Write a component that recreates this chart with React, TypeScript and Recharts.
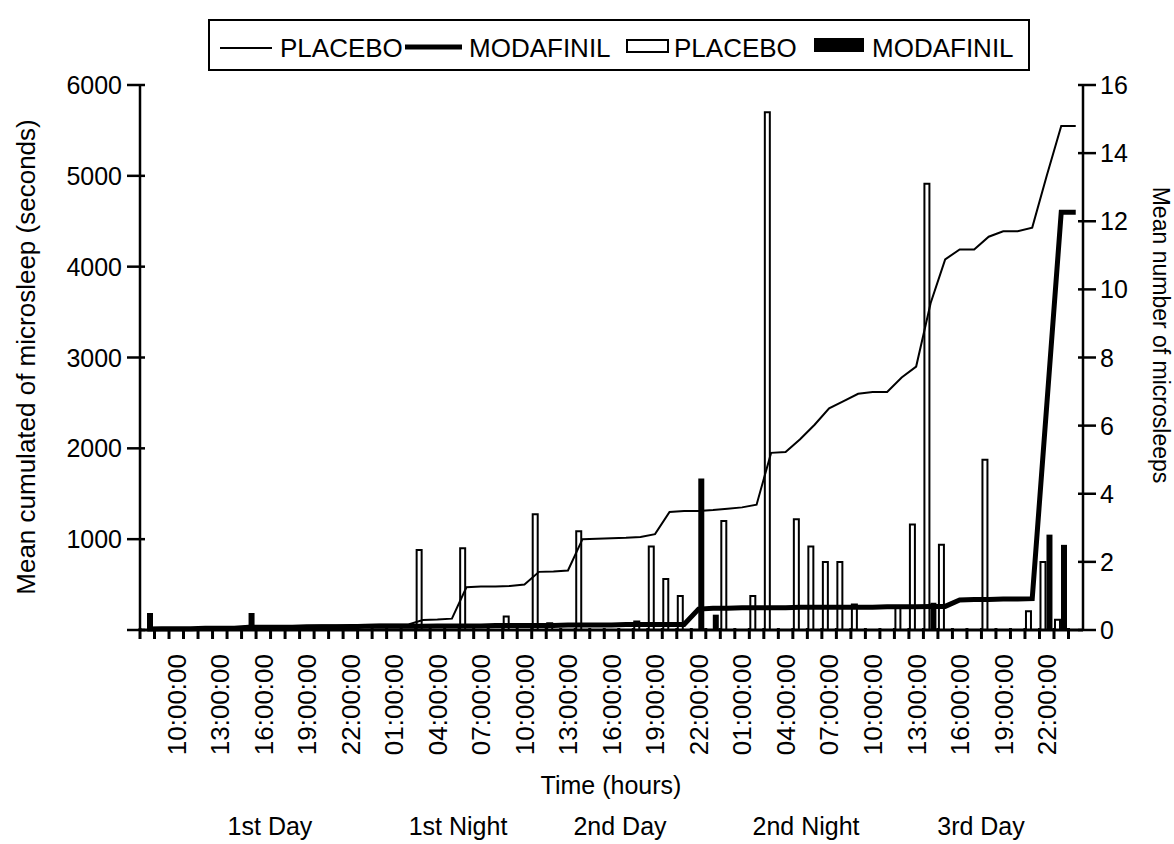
import { ComposedChart, Bar, Line, XAxis, YAxis } from "recharts";

// one slot per hour, 08:00 on day 1 through 00:00 on day 4
const slots = [
  "d1 08:00:00", "d1 09:00:00", "d1 10:00:00", "d1 11:00:00", "d1 12:00:00", "d1 13:00:00",
  "d1 14:00:00", "d1 15:00:00", "d1 16:00:00", "d1 17:00:00", "d1 18:00:00", "d1 19:00:00",
  "d1 20:00:00", "d1 21:00:00", "d1 22:00:00", "d1 23:00:00",
  "d2 00:00:00", "d2 01:00:00", "d2 02:00:00", "d2 03:00:00", "d2 04:00:00", "d2 05:00:00",
  "d2 06:00:00", "d2 07:00:00", "d2 08:00:00", "d2 09:00:00", "d2 10:00:00", "d2 11:00:00",
  "d2 12:00:00", "d2 13:00:00", "d2 14:00:00", "d2 15:00:00", "d2 16:00:00", "d2 17:00:00",
  "d2 18:00:00", "d2 19:00:00", "d2 20:00:00", "d2 21:00:00", "d2 22:00:00", "d2 23:00:00",
  "d3 00:00:00", "d3 01:00:00", "d3 02:00:00", "d3 03:00:00", "d3 04:00:00", "d3 05:00:00",
  "d3 06:00:00", "d3 07:00:00", "d3 08:00:00", "d3 09:00:00", "d3 10:00:00", "d3 11:00:00",
  "d3 12:00:00", "d3 13:00:00", "d3 14:00:00", "d3 15:00:00", "d3 16:00:00", "d3 17:00:00",
  "d3 18:00:00", "d3 19:00:00", "d3 20:00:00", "d3 21:00:00", "d3 22:00:00", "d3 23:00:00",
  "d4 00:00:00",
];

const tickLabels = [
  "d1 10:00:00", "d1 13:00:00", "d1 16:00:00", "d1 19:00:00", "d1 22:00:00",
  "d2 01:00:00", "d2 04:00:00", "d2 07:00:00", "d2 10:00:00", "d2 13:00:00",
  "d2 16:00:00", "d2 19:00:00", "d2 22:00:00",
  "d3 01:00:00", "d3 04:00:00", "d3 07:00:00", "d3 10:00:00", "d3 13:00:00",
  "d3 16:00:00", "d3 19:00:00", "d3 22:00:00",
];

// cumulated microsleep, seconds (left axis)
const placeboCum = [
  10, 15, 20, 20, 25, 25, 30, 35, 40, 40, 45, 45, 50, 50, 55, 55, 60, 60, 60,
  110, 115, 125, 470, 480, 480, 485, 500, 640, 645, 655,
  1000, 1005, 1010, 1015, 1025, 1055, 1300, 1310, 1310, 1320, 1335, 1350, 1380,
  1950, 1960, 2100, 2260, 2440, 2520, 2600, 2620, 2620, 2780, 2900,
  3600, 4080, 4190, 4190, 4330, 4390, 4390, 4430, 5000, 5550, 5550,
];
const modafinilCum = [
  10, 15, 15, 15, 20, 20, 20, 30, 30, 30, 30, 35, 35, 35, 35, 40, 40, 40, 40,
  40, 45, 45, 45, 45, 50, 50, 50, 50, 50, 55,
  55, 55, 55, 60, 60, 60, 60, 60, 230, 240, 240, 245, 245,
  245, 245, 250, 250, 250, 250, 250, 250, 255, 255, 255,
  260, 260, 330, 335, 335, 340, 340, 345, 2470, 4600, 4600,
];

// mean number of microsleeps per hour (right axis)
const placeboCount = [
  0, 0, 0, 0, 0, 0, 0, 0, 0, 0, 0, 0, 0, 0, 0, 0, 0, 0, 0,
  2.35, 0, 0, 2.4, 0, 0, 0.4, 0, 3.4, 0.2, 0,
  2.9, 0, 0, 0, 0.25, 2.45, 1.5, 1.0, 0, 0, 3.2, 0, 1.0,
  15.2, 0, 3.25, 2.45, 2.0, 2.0, 0.75, 0, 0, 0.7, 3.1,
  13.1, 2.5, 0, 0, 5.0, 0, 0, 0.55, 2.0, 0.3, 0,
];
const modafinilCount = [
  0.5, 0, 0, 0, 0, 0, 0, 0.5, 0, 0, 0, 0, 0, 0, 0, 0, 0, 0, 0,
  0, 0, 0, 0, 0, 0, 0, 0, 0, 0, 0,
  0, 0, 0, 0, 0, 0, 0, 0, 4.45, 0.45, 0, 0, 0,
  0, 0, 0, 0, 0, 0, 0, 0, 0, 0, 0,
  0.8, 0, 0, 0, 0, 0, 0, 0, 2.8, 2.5, 0,
];

const periods = ["1st Day", "1st Night", "2nd Day", "2nd Night", "3rd Day"];
const periodX = [270, 458, 620, 806, 981];

const data = slots.map((slot, i) => ({
  slot,
  placeboCum: placeboCum[i],
  modafinilCum: modafinilCum[i],
  placeboCount: placeboCount[i],
  modafinilCount: modafinilCount[i],
}));

const FONT = "Arial, 'Liberation Sans', Helvetica, sans-serif";

function XTick({ x, y, payload }: any) {
  if (!tickLabels.includes(payload.value)) return <g />;
  const ly = y + 13;
  return (
    <text
      x={x}
      y={ly}
      dy="0.36em"
      transform={`rotate(-90, ${x}, ${ly})`}
      textAnchor="end"
      fontSize={26}
      fontFamily={FONT}
      fill="#000"
    >
      {String(payload.value).slice(3)}
    </text>
  );
}

function LeftTick({ x, y, payload }: any) {
  return (
    <g>
      <line x1={x - 13} x2={x + 5} y1={y} y2={y} stroke="#000" strokeWidth={2.5} />
      {payload.value !== 0 && (
        <text x={x - 18} y={y} dy="0.36em" textAnchor="end" fontSize={25} fontFamily={FONT} fill="#000">
          {payload.value}
        </text>
      )}
    </g>
  );
}

function RightTick({ x, y, payload }: any) {
  return (
    <g>
      <line x1={x - 5} x2={x + 13} y1={y} y2={y} stroke="#000" strokeWidth={2.5} />
      <text x={x + 17} y={y} dy="0.36em" textAnchor="start" fontSize={25} fontFamily={FONT} fill="#000">
        {payload.value}
      </text>
    </g>
  );
}

const textStyle: React.CSSProperties = {
  position: "absolute",
  fontFamily: FONT,
  fontSize: 25,
  color: "#000",
  whiteSpace: "nowrap",
  lineHeight: 1,
};

export default function App() {
  return (
    <div style={{ position: "absolute", left: 0, top: 0, width: 1174, height: 844, background: "#fff" }}>
      <ComposedChart
        width={1174}
        height={844}
        data={data}
        margin={{ top: 85, right: 0, bottom: 0, left: 0 }}
        barGap={1}
        barCategoryGap={0}
      >
        <XAxis
          dataKey="slot"
          interval={0}
          height={214}
          tickSize={11}
          tickMargin={0}
          // hour marks sit between the hourly columns, half a band left of centre
          tickLine={{ stroke: "#000", strokeWidth: 3, transform: "translate(-7.25, -2)" }}
          axisLine={{ stroke: "#000", strokeWidth: 3 }}
          tick={<XTick />}
        />
        <YAxis
          yAxisId="left"
          orientation="left"
          width={140}
          domain={[0, 6000]}
          ticks={[0, 1000, 2000, 3000, 4000, 5000, 6000]}
          tickSize={0}
          tickMargin={0}
          tickLine={false}
          axisLine={{ stroke: "#000", strokeWidth: 2.5 }}
          tick={<LeftTick />}
        />
        <YAxis
          yAxisId="right"
          orientation="right"
          width={91}
          domain={[0, 16]}
          ticks={[0, 2, 4, 6, 8, 10, 12, 14, 16]}
          tickSize={0}
          tickMargin={0}
          tickLine={false}
          axisLine={{ stroke: "#000", strokeWidth: 2.5 }}
          tick={<RightTick />}
        />
        <Line
          yAxisId="left"
          dataKey="placeboCum"
          name="PLACEBO"
          type="linear"
          stroke="#000"
          strokeWidth={2}
          dot={false}
          isAnimationActive={false}
        />
        <Line
          yAxisId="left"
          dataKey="modafinilCum"
          name="MODAFINIL"
          type="linear"
          stroke="#000"
          strokeWidth={5}
          dot={false}
          isAnimationActive={false}
        />
        <Bar
          yAxisId="right"
          dataKey="placeboCount"
          name="PLACEBO"
          barSize={5}
          fill="#fff"
          stroke="#000"
          strokeWidth={2}
          isAnimationActive={false}
        />
        <Bar
          yAxisId="right"
          dataKey="modafinilCount"
          name="MODAFINIL"
          barSize={6}
          fill="#000"
          isAnimationActive={false}
        />
      </ComposedChart>

      {/* legend box */}
      <div
        style={{
          position: "absolute",
          left: 208,
          top: 19,
          width: 822,
          height: 52,
          border: "2px solid #000",
          boxSizing: "border-box",
        }}
      >
        <svg width={822} height={52} style={{ position: "absolute", left: -2, top: -2 }}>
          <line x1={12} x2={64} y1={29} y2={29} stroke="#000" strokeWidth={2} />
          <line x1={197} x2={254} y1={28} y2={28} stroke="#000" strokeWidth={5} />
          <rect x={419} y={21} width={41} height={12} fill="#fff" stroke="#000" strokeWidth={2} />
          <rect x={606} y={19} width={50} height={14} fill="#000" />
        </svg>
        <span style={{ ...textStyle, fontSize: 26, left: 70, top: 14 }}>PLACEBO</span>
        <span style={{ ...textStyle, fontSize: 26, left: 259, top: 14 }}>MODAFINIL</span>
        <span style={{ ...textStyle, fontSize: 26, left: 464, top: 14 }}>PLACEBO</span>
        <span style={{ ...textStyle, fontSize: 26, left: 662, top: 14 }}>MODAFINIL</span>
      </div>

      {/* axis titles */}
      <div
        style={{
          ...textStyle,
          fontSize: 26,
          left: 26,
          top: 357,
          transform: "translate(-50%, -50%) rotate(-90deg)",
        }}
      >
        Mean cumulated of microsleep (seconds)
      </div>
      <div
        style={{
          ...textStyle,
          fontSize: 23,
          left: 1160,
          top: 335,
          transform: "translate(-50%, -50%) rotate(90deg)",
        }}
      >
        Mean number of microsleeps
      </div>
      <div style={{ ...textStyle, left: 611, top: 785, transform: "translate(-50%, -50%)" }}>Time (hours)</div>
      {periods.map((p, i) => (
        <div
          key={p}
          style={{ ...textStyle, left: periodX[i], top: 826, transform: "translate(-50%, -50%)" }}
        >
          {p}
        </div>
      ))}
    </div>
  );
}
